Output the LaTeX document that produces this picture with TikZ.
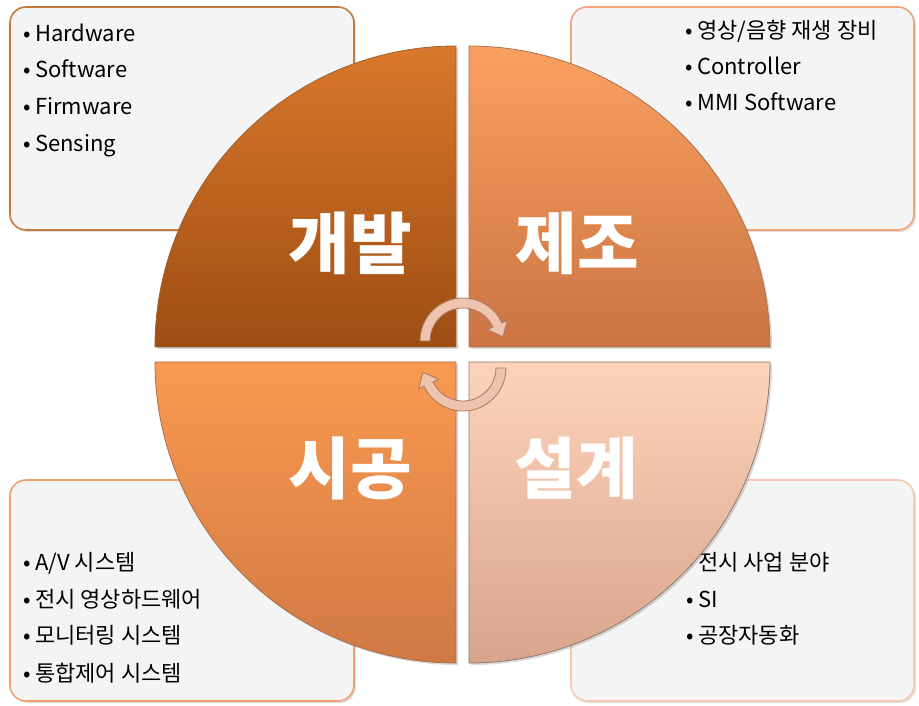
\documentclass[tikz,border=0pt]{standalone}
\usepackage{fontspec}
\newfontfamily\krfont{Noto Sans CJK KR}
\usepackage{tikz}
\usetikzlibrary{calc, shadows}
\definecolor{boxfill}{HTML}{F4F4F4}
\definecolor{devline}{HTML}{C27A3E}
\definecolor{mkline}{HTML}{F0A478}
\definecolor{bldline}{HTML}{EFA06E}
\definecolor{dsnline}{HTML}{F7C8B0}
\definecolor{arrowfill}{HTML}{EEC4AE}
\definecolor{arrowedge}{HTML}{A9775F}
\tikzset{infobox/.style={draw=#1, rounded corners=16pt, line width=1.6pt, fill=boxfill,
    drop shadow={shadow xshift=2pt, shadow yshift=-2pt, opacity=0.25}}}
\tikzset{listitem/.style={anchor=base west, inner sep=0pt, font=\krfont\fontsize{22}{26}\selectfont}}
\tikzset{quadrant/.style={draw=#1, line width=0.8pt,
    drop shadow={shadow xshift=2pt, shadow yshift=-2pt, opacity=0.3}}}
\tikzset{biglabel/.style={inner sep=0pt, text=white, font=\krfont\bfseries\fontsize{67}{70}\selectfont}}
\tikzset{cyclearrow/.style={fill=arrowfill, draw=arrowedge, line width=0.8pt}}

\begin{document}
\begin{tikzpicture}[x=1pt, y=1pt]
    \useasboundingbox (0,0) rectangle (919,705);

    \path[infobox=devline] (10,475) rectangle (354,698);
    \path[infobox=mkline]  (571,475) rectangle (914,698);
    \path[infobox=bldline] (10,4) rectangle (354,225);
    \path[infobox=dsnline] (571,4) rectangle (914,225);

    \node[listitem] (hw)   at (35,663)  {\llap{•\hspace{4pt}}Hardware};
    \node[listitem] (sw)   at (35,627)  {\llap{•\hspace{4pt}}Software};
    \node[listitem] (fw)   at (35,590)  {\llap{•\hspace{4pt}}Firmware};
    \node[listitem] (sens) at (35,553)  {\llap{•\hspace{4pt}}Sensing};

    \node[listitem] (av)   at (697,666) {\llap{•\hspace{4pt}}영상/음향 재생 장비};
    \node[listitem] (ctrl) at (697,630) {\llap{•\hspace{4pt}}Controller};
    \node[listitem] (mmi)  at (697,594) {\llap{•\hspace{4pt}}MMI Software};

    \node[listitem] (avs)  at (35,135)  {\llap{•\hspace{4pt}}A/V 시스템};
    \node[listitem] (disp) at (35,98)   {\llap{•\hspace{4pt}}전시 영상하드웨어};
    \node[listitem] (mon)  at (35,62)   {\llap{•\hspace{4pt}}모니터링 시스템};
    \node[listitem] (ctl)  at (35,24)   {\llap{•\hspace{4pt}}통합제어 시스템};

    \node[listitem] (exh)  at (698,135) {\llap{•\hspace{4pt}}전시 사업 분야};
    \node[listitem] (si)   at (698,98)  {\llap{•\hspace{4pt}}SI};
    \node[listitem] (fa)   at (698,62)  {\llap{•\hspace{4pt}}공장자동화};

    % four quarters of the wheel
    \path[quadrant=devline!80!black, top color={rgb,255:red,217;green,120;blue,43}, bottom color={rgb,255:red,158;green,77;blue,19}]
        (456,358) -- (155,358) arc[start angle=180, end angle=90, radius=301] -- cycle;
    \path[quadrant=mkline!70!black, top color={rgb,255:red,249;green,160;blue,96}, bottom color={rgb,255:red,204;green,116;blue,67}]
        (469,358) -- (469,659) arc[start angle=90, end angle=0, radius=301] -- cycle;
    \path[quadrant=bldline!70!black, top color={rgb,255:red,250;green,154;blue,80}, bottom color={rgb,255:red,208;green,121;blue,69}]
        (456,343) -- (155,343) arc[start angle=180, end angle=270, radius=301] -- cycle;
    \path[quadrant=dsnline!60!black, top color={rgb,255:red,253;green,212;blue,186}, bottom color={rgb,255:red,216;green,164;blue,140}]
        (469,343) -- (770,343) arc[start angle=0, end angle=-90, radius=301] -- cycle;

    \node[biglabel] (dev) at (350,462) {개발};
    \node[biglabel] (mk)  at (577,462) {제조};
    \node[biglabel] (bld) at (350,237) {시공};
    \node[biglabel] (dsn) at (576,237) {설계};

    % turning arrows in the middle
    \coordinate (topc) at (463,364);
    \coordinate (botc) at (463,337);
    \path[cyclearrow] ($(topc)+(180:43)$) arc[start angle=180, end angle=25, radius=43]
        -- ($(topc)+(25:49)$) -- ($(topc)+(25:38)+(-65:13)$) -- ($(topc)+(25:27)$)
        -- ($(topc)+(25:33)$) arc[start angle=25, end angle=180, radius=33] -- cycle;
    \path[cyclearrow] ($(botc)+(0:43)$) arc[start angle=0, end angle=-155, radius=43]
        -- ($(botc)+(-155:49)$) -- ($(botc)+(-155:38)+(115:13)$) -- ($(botc)+(-155:27)$)
        -- ($(botc)+(-155:33)$) arc[start angle=-155, end angle=0, radius=33] -- cycle;
\end{tikzpicture}
\end{document}
